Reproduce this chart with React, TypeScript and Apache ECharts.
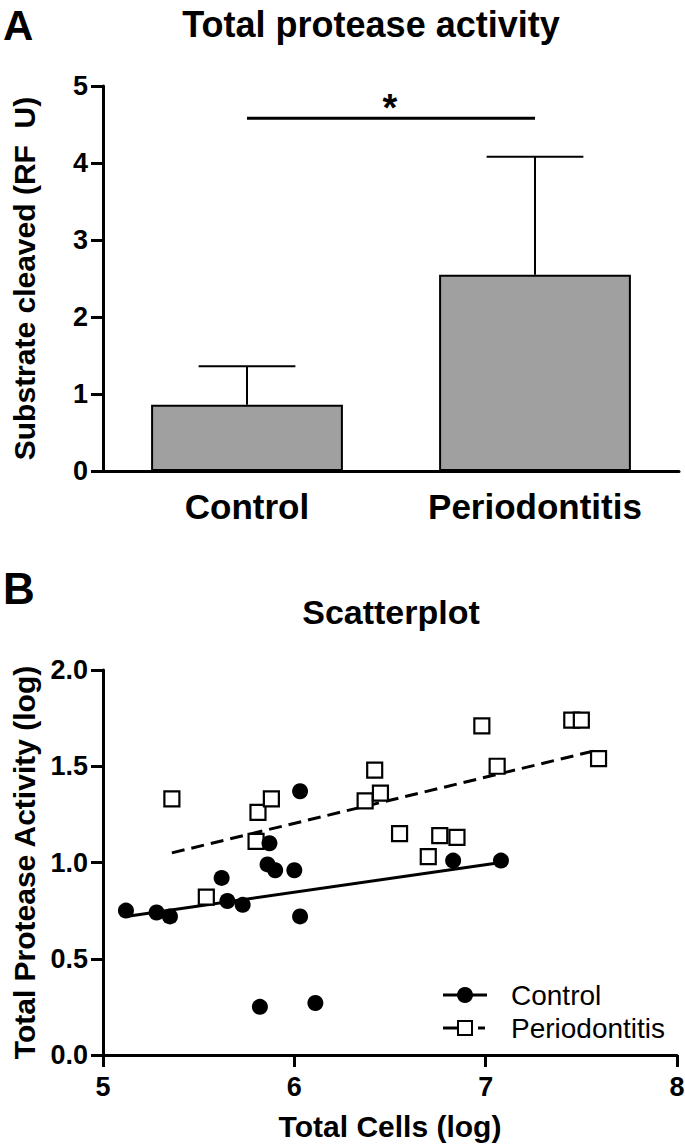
import React, { useEffect, useRef } from "react";
import * as echarts from "echarts";

const FONT = "'Liberation Sans', Arial, Helvetica, sans-serif";

// Panel A data
const categories = ["Control", "Periodontitis"];
const barMeans = [0.86, 2.55];
const barUpper = [1.36, 4.08];
const sigLevel = 4.58;
const yTicksA = [0, 1, 2, 3, 4, 5];

// Panel B data
const controlX = [5.12, 5.28, 5.35, 5.62, 5.65, 5.73, 5.82, 5.87, 5.86, 5.9, 6.0, 6.03, 6.03, 6.11, 6.83, 7.08];
const controlY = [0.75, 0.74, 0.72, 0.92, 0.8, 0.78, 0.25, 1.1, 0.99, 0.96, 0.96, 1.37, 0.72, 0.27, 1.01, 1.01];
const perioX = [5.36, 5.54, 5.81, 5.88, 5.8, 6.42, 6.37, 6.45, 6.55, 6.76, 6.85, 6.7, 6.98, 7.06, 7.45, 7.5, 7.59];
const perioY = [1.33, 0.82, 1.26, 1.33, 1.11, 1.48, 1.32, 1.36, 1.15, 1.14, 1.13, 1.03, 1.71, 1.5, 1.74, 1.74, 1.54];
const controlFit = [[5.12, 0.72], [7.08, 1.0]];
const perioFit = [[5.36, 1.05], [7.59, 1.585]];

export default function App() {
  const ref = useRef<HTMLDivElement>(null);
  useEffect(() => {
    document.body.style.margin = "0";
    const chart = echarts.init(ref.current!, null, { renderer: "svg" });
    const tickLabel = { color: "#000", fontSize: 27, fontWeight: "bold", fontFamily: FONT };
    const axisLine = { show: true, lineStyle: { color: "#000", width: 3 } };
    const axisTick = { show: true, length: 12, lineStyle: { color: "#000", width: 3 } };
    const nameStyle = { color: "#000", fontSize: 30, fontWeight: "bold", fontFamily: FONT };

    const option: any = {
      animation: false,
      backgroundColor: "#fff",
      grid: [
        { left: 103, top: 86, width: 576, height: 385, outerBoundsMode: "none", containLabel: false },
        { left: 103, top: 670, width: 574, height: 385, outerBoundsMode: "none", containLabel: false },
      ],
      xAxis: [
        {
          gridIndex: 0,
          type: "category",
          data: categories,
          axisLine,
          axisTick: { show: false },
          axisLabel: { ...tickLabel, fontSize: 35, margin: 18 },
          splitLine: { show: false },
        },
        {
          gridIndex: 1,
          type: "value",
          min: 5,
          max: 8,
          interval: 1,
          axisLine,
          axisTick,
          axisLabel: { ...tickLabel, margin: 18 },
          splitLine: { show: false },
          name: "Total Cells (log)",
          nameLocation: "middle",
          nameGap: 56,
          nameTextStyle: nameStyle,
        },
      ],
      yAxis: [
        {
          gridIndex: 0,
          type: "value",
          min: 0,
          max: 5,
          interval: 1,
          axisLine,
          axisTick,
          axisLabel: { ...tickLabel, margin: 15, formatter: (v: number) => (yTicksA.includes(v) ? String(v) : "") },
          splitLine: { show: false },
          name: "Substrate cleaved (RF  U)",
          nameLocation: "middle",
          nameRotate: 90,
          nameGap: 64,
          nameTextStyle: nameStyle,
        },
        {
          gridIndex: 1,
          type: "value",
          min: 0,
          max: 2,
          interval: 0.5,
          axisLine,
          axisTick,
          axisLabel: { ...tickLabel, margin: 15, formatter: (v: number) => v.toFixed(1) },
          splitLine: { show: false },
          name: "Total Protease Activity (log)",
          nameLocation: "middle",
          nameRotate: 90,
          nameGap: 64,
          nameTextStyle: nameStyle,
        },
      ],
      series: [
        {
          type: "bar",
          xAxisIndex: 0,
          yAxisIndex: 0,
          data: barMeans,
          barWidth: "66.6%",
          itemStyle: { color: "#a0a0a0", borderColor: "#000", borderWidth: 2 },
          z: 2,
        },
        {
          type: "custom",
          xAxisIndex: 0,
          yAxisIndex: 0,
          data: categories.map((_, i) => [i, barMeans[i], barUpper[i]]),
          encode: { x: 0, y: [1, 2] },
          z: 3,
          renderItem: (params: any, api: any) => {
            const x = api.value(0);
            const p0 = api.coord([x, api.value(1)]);
            const p1 = api.coord([x, api.value(2)]);
            const half = api.size([1, 0])[0] * 0.168;
            return {
              type: "group",
              children: [
                { type: "line", shape: { x1: p0[0], y1: p0[1], x2: p1[0], y2: p1[1] }, style: { stroke: "#000", lineWidth: 2 } },
                { type: "line", shape: { x1: p1[0] - half, y1: p1[1], x2: p1[0] + half, y2: p1[1] }, style: { stroke: "#000", lineWidth: 2 } },
              ],
            };
          },
        },
        {
          type: "custom",
          xAxisIndex: 0,
          yAxisIndex: 0,
          data: [[0, 1, sigLevel]],
          encode: { x: [0, 1], y: 2 },
          z: 3,
          renderItem: (params: any, api: any) => {
            const p0 = api.coord([api.value(0), api.value(2)]);
            const p1 = api.coord([api.value(1), api.value(2)]);
            return {
              type: "group",
              children: [
                { type: "line", shape: { x1: p0[0], y1: p0[1], x2: p1[0], y2: p1[1] }, style: { stroke: "#000", lineWidth: 3 } },
                {
                  type: "text",
                  x: (p0[0] + p1[0]) / 2 - 1,
                  y: p0[1] - 10,
                  style: { text: "*", fontSize: 38, fontWeight: "bold", fontFamily: FONT, fill: "#000", align: "center", verticalAlign: "middle" },
                },
              ],
            };
          },
        },
        {
          type: "line",
          xAxisIndex: 1,
          yAxisIndex: 1,
          data: controlFit,
          symbol: "none",
          lineStyle: { color: "#000", width: 3 },
          z: 2,
        },
        {
          type: "line",
          xAxisIndex: 1,
          yAxisIndex: 1,
          data: perioFit,
          symbol: "none",
          lineStyle: { color: "#000", width: 3, type: [13, 7] },
          z: 2,
        },
        {
          type: "scatter",
          name: "Periodontitis",
          xAxisIndex: 1,
          yAxisIndex: 1,
          data: perioX.map((x, i) => [x, perioY[i]]),
          symbol: "rect",
          symbolSize: 15,
          itemStyle: { color: "#fff", borderColor: "#000", borderWidth: 2.2, opacity: 1 },
          z: 3,
        },
        {
          type: "scatter",
          name: "Control",
          xAxisIndex: 1,
          yAxisIndex: 1,
          data: controlX.map((x, i) => [x, controlY[i]]),
          symbol: "circle",
          symbolSize: 16,
          itemStyle: { color: "#000", opacity: 1 },
          z: 4,
        },
      ],
      graphic: [
        { type: "text", x: 3, y: 25, style: { text: "A", fontSize: 42, fontWeight: "bold", fontFamily: FONT, fill: "#000", align: "left", verticalAlign: "middle" } },
        { type: "text", x: 371, y: 24, style: { text: "Total protease activity", fontSize: 36, fontWeight: "bold", fontFamily: FONT, fill: "#000", align: "center", verticalAlign: "middle" } },
        { type: "text", x: 3, y: 588, style: { text: "B", fontSize: 44, fontWeight: "bold", fontFamily: FONT, fill: "#000", align: "left", verticalAlign: "middle" } },
        { type: "text", x: 391, y: 612, style: { text: "Scatterplot", fontSize: 34, fontWeight: "bold", fontFamily: FONT, fill: "#000", align: "center", verticalAlign: "middle" } },
        // legend
        { type: "line", shape: { x1: 443, y1: 995, x2: 487, y2: 995 }, style: { stroke: "#000", lineWidth: 3 } },
        { type: "circle", shape: { cx: 465, cy: 995, r: 8 }, style: { fill: "#000" } },
        { type: "text", x: 511, y: 995, style: { text: "Control", fontSize: 28, fontFamily: FONT, fill: "#000", align: "left", verticalAlign: "middle" } },
        { type: "line", shape: { x1: 443, y1: 1028, x2: 460, y2: 1028 }, style: { stroke: "#000", lineWidth: 3 } },
        { type: "line", shape: { x1: 478, y1: 1028, x2: 485, y2: 1028 }, style: { stroke: "#000", lineWidth: 3 } },
        { type: "rect", shape: { x: 458, y: 1021, width: 14, height: 14 }, style: { fill: "#fff", stroke: "#000", lineWidth: 2 } },
        { type: "text", x: 511, y: 1028, style: { text: "Periodontitis", fontSize: 28, fontFamily: FONT, fill: "#000", align: "left", verticalAlign: "middle" } },
      ],
    };
    chart.setOption(option);
    return () => chart.dispose();
  }, []);
  return <div ref={ref} style={{ width: 685, height: 1147 }} />;
}
